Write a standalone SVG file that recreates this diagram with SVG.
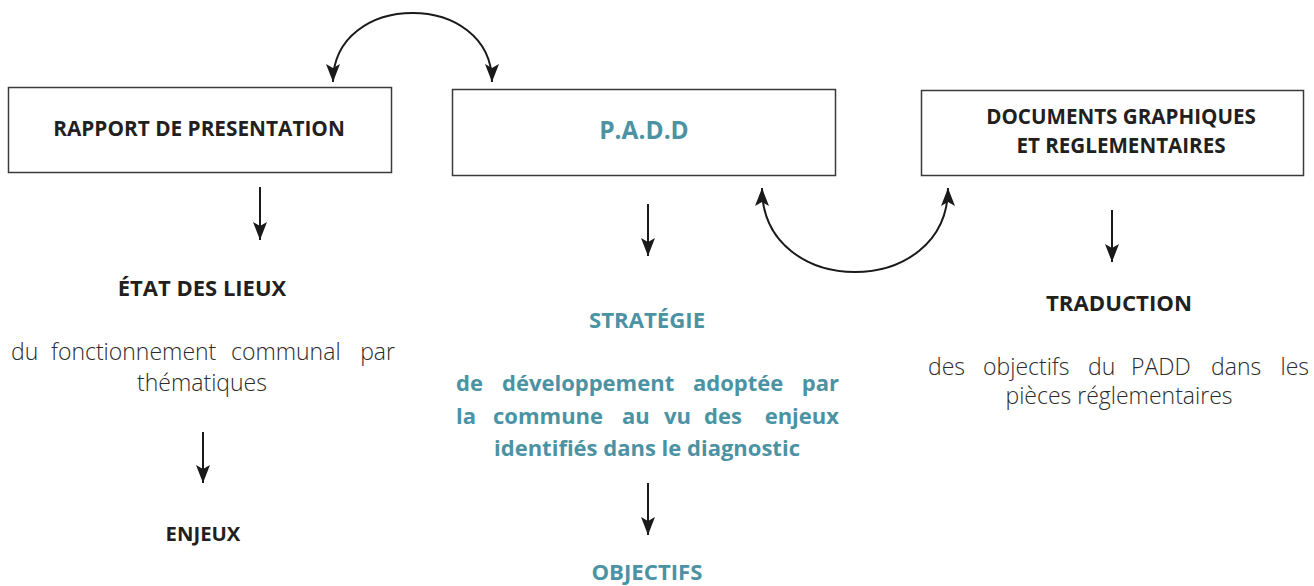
<svg xmlns="http://www.w3.org/2000/svg" width="1314" height="586" viewBox="0 0 1314 586">
<style>
.box{fill:#fff;stroke:#3a3a3a;stroke-width:1.5}
.t{font-family:"Open Sans","Noto Sans","Liberation Sans",sans-serif}
.b{font-weight:bold;fill:#231f20}
.teal{font-weight:bold;fill:#4b93a3}
.l{font-weight:300;fill:#2b2b2b}
.c{text-anchor:middle}
.ln{fill:none;stroke:#1a1a1a;stroke-width:2}
</style>
<defs>
<marker id="ah" markerUnits="userSpaceOnUse" markerWidth="18" markerHeight="14" refX="18" refY="7" orient="auto-start-reverse">
<path d="M0,0 L18,7 L0,14 L4,7 z" fill="#1a1a1a"/>
</marker>
</defs>
<g id="connectors">
<path class="ln" d="M333,82 C333,-10 492,-10 492,82" marker-start="url(#ah)" marker-end="url(#ah)"/>
<path class="ln" d="M762,188 C762,300 948,300 948,188" marker-start="url(#ah)" marker-end="url(#ah)"/>
<path class="ln" d="M260,187 L260,240" marker-end="url(#ah)"/>
<path class="ln" d="M648,204 L648,256" marker-end="url(#ah)"/>
<path class="ln" d="M1112,210 L1112,262" marker-end="url(#ah)"/>
<path class="ln" d="M203,432 L203,483" marker-end="url(#ah)"/>
<path class="ln" d="M648,483 L648,535" marker-end="url(#ah)"/>
</g>
<g id="rapport">
<rect class="box" x="8.5" y="87.5" width="383" height="85"/>
<text class="t b c" x="199" y="136" font-size="20.8">RAPPORT DE PRESENTATION</text>
</g>
<g id="padd">
<rect class="box" x="452.5" y="89.5" width="383" height="86"/>
<text class="t teal c" x="644" y="139" font-size="24.5">P.A.D.D</text>
</g>
<g id="documents">
<rect class="box" x="921.5" y="90.5" width="382" height="85"/>
<text class="t b c" x="1121" y="124" font-size="20.6">DOCUMENTS GRAPHIQUES</text>
<text class="t b c" x="1121" y="153" font-size="20.6">ET REGLEMENTAIRES</text>
</g>
<g id="etat">
<text class="t b c" x="202" y="296" font-size="22">ÉTAT DES LIEUX</text>
<text class="t l" font-size="23" y="360"><tspan x="11">du</tspan><tspan x="51">fonctionnement</tspan><tspan x="231">communal</tspan><tspan x="395" text-anchor="end">par</tspan></text>
<text class="t l c" x="202" y="391" font-size="23">thématiques</text>
</g>
<g id="enjeux">
<text class="t b c" x="203" y="541" font-size="20.3">ENJEUX</text>
</g>
<g id="strategie">
<text class="t teal c" x="647" y="328" font-size="22.2">STRATÉGIE</text>
<text class="t teal" font-size="22" y="391"><tspan x="456">de</tspan><tspan x="502">développement</tspan><tspan x="693">adoptée</tspan><tspan x="839" text-anchor="end">par</tspan></text>
<text class="t teal" font-size="22" y="424"><tspan x="456">la</tspan><tspan x="493">commune</tspan><tspan x="622">au</tspan><tspan x="664">vu</tspan><tspan x="704">des</tspan><tspan x="839" text-anchor="end">enjeux</tspan></text>
<text class="t teal c" x="647" y="456" font-size="22">identifiés dans le diagnostic</text>
</g>
<g id="objectifs">
<text class="t teal c" x="647" y="580" font-size="22.2">OBJECTIFS</text>
</g>
<g id="traduction">
<text class="t b c" x="1119" y="311" font-size="22.2">TRADUCTION</text>
<text class="t l" font-size="23" y="375"><tspan x="928">des</tspan><tspan x="983">objectifs</tspan><tspan x="1088">du</tspan><tspan x="1131">PADD</tspan><tspan x="1211">dans</tspan><tspan x="1309" text-anchor="end">les</tspan></text>
<text class="t l c" x="1119" y="404" font-size="23">pièces réglementaires</text>
</g>
</svg>
